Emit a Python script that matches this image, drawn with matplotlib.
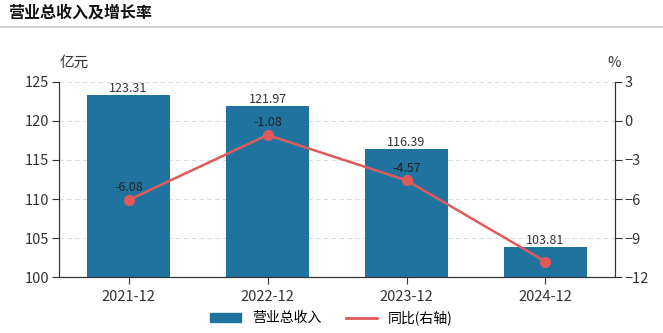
import matplotlib.pyplot as plt
import numpy as np

plt.rcParams['font.family'] = ['Noto Sans CJK SC', 'DejaVu Sans']

periods = ['2021-12', '2022-12', '2023-12', '2024-12']
revenue = [123.31, 121.97, 116.39, 103.81]
growth = [-6.08, -1.08, -4.57, -10.81]
growth_labels = ['-6.08', '-1.08', '-4.57', None]

bar_color = '#21739f'
line_color = '#e05a5a'
axis_color = '#333333'

fig = plt.figure(figsize=(6.63, 3.33), dpi=100)
ax = fig.add_axes([0.089, 0.168, 0.8386, 0.586])
ax2 = ax.twinx()

x = np.arange(len(periods))
ax.bar(x, revenue, width=0.6, color=bar_color, zorder=2)
for xi, v in zip(x, revenue):
    ax.text(xi, v, f'{v:.2f}', ha='center', va='bottom', fontsize=9, color='#333333')

ax.set_xlim(-0.5, len(periods) - 0.5)
ax.set_ylim(100, 125)
ax.set_yticks(range(100, 126, 5))
ax.set_xticks(x)
ax.set_xticklabels(periods)
ax.yaxis.grid(True, linestyle=(0, (4, 3)), color='#dddddd', linewidth=0.8)
ax.set_axisbelow(True)

ax2.plot(x, growth, color=line_color, linewidth=1.8, marker='o', markersize=7, zorder=3)
for xi, v, lab in zip(x, growth, growth_labels):
    if lab:
        ax2.annotate(lab, (xi, v), xytext=(0, 4), textcoords='offset points',
                     ha='center', va='bottom', fontsize=9, color='#222222')
ax2.set_ylim(-12, 3)
ax2.set_yticks(range(-12, 4, 3))

for a in (ax, ax2):
    a.spines['top'].set_visible(False)
    for s in ('left', 'right', 'bottom'):
        a.spines[s].set_color(axis_color)
    a.tick_params(colors='#333333', labelsize=10.5, length=5, pad=2)
ax.tick_params(axis='x', labelsize=10.5, pad=4)

fig.text(0.09, 0.81, '亿元', fontsize=10.5, color='#333333', ha='left', va='center')
fig.text(0.927, 0.81, '%', fontsize=10.5, color='#333333', ha='center', va='center')

fig.text(0.012, 0.962, '营业总收入及增长率', fontsize=11.5, fontweight='bold',
         color='#111111', va='center')
fig.add_artist(plt.Line2D([0, 1], [0.918, 0.918], color='#cccccc', linewidth=1.2))

handles = [plt.Rectangle((0, 0), 1, 1, color=bar_color),
           plt.Line2D([0], [0], color=line_color, linewidth=2)]
fig.legend(handles, ['营业总收入', '同比(右轴)'], loc='center', bbox_to_anchor=(0.5, 0.045),
           ncol=2, frameon=False, fontsize=10, handlelength=2.2, columnspacing=1.8)

fig.savefig('out.png', dpi=100)
